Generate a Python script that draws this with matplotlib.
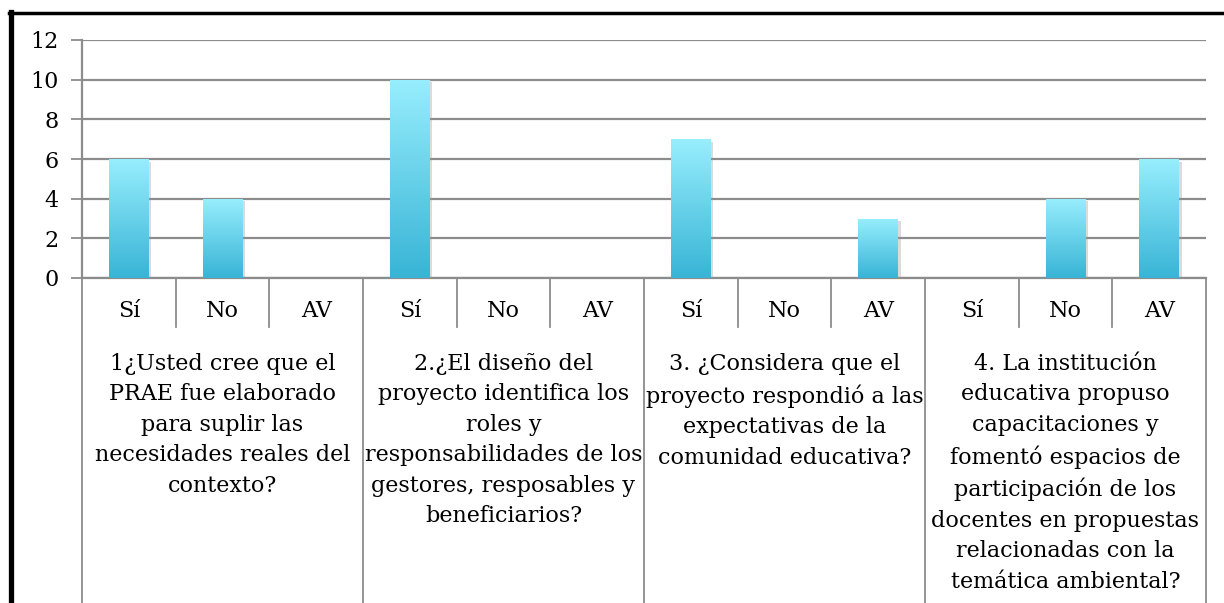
import numpy as np
import matplotlib
matplotlib.use("Agg")
import matplotlib.pyplot as plt
import matplotlib.patheffects as pe
from matplotlib.colors import LinearSegmentedColormap
from matplotlib.lines import Line2D

# datos
respuestas = ["Sí", "No", "AV"]
preguntas = [
    "1¿Usted cree que el\nPRAE fue elaborado\npara suplir las\nnecesidades reales del\ncontexto?",
    "2.¿El diseño del\nproyecto identifica los\nroles y\nresponsabilidades de los\ngestores, resposables y\nbeneficiarios?",
    "3. ¿Considera que el\nproyecto respondió a las\nexpectativas de la\ncomunidad educativa?",
    "4. La institución\neducativa propuso\ncapacitaciones y\nfomentó espacios de\nparticipación de los\ndocentes en propuestas\nrelacionadas con la\ntemática ambiental?",
]
valores = [6, 4, 0, 10, 0, 0, 7, 0, 3, 0, 4, 6]
y_ticks = [0, 2, 4, 6, 8, 10, 12]

plt.rcParams['font.family'] = 'DejaVu Serif'
plt.rcParams['font.size'] = 16

fig = plt.figure(figsize=(12.24, 6.03), dpi=100)
ax = fig.add_axes([82 / 1224, 325 / 603, 1124 / 1224, 238 / 603])

n_resp = len(respuestas)
x = np.arange(len(valores))
etiquetas = respuestas * len(preguntas)

cmap = LinearSegmentedColormap.from_list('barra', ['#38B4D6', '#97EEFD'])
grad = np.linspace(0, 1, 256).reshape(-1, 1)

bars = ax.bar(x, valores, width=0.42, color='#5ccbe8', zorder=3,
              path_effects=[pe.SimplePatchShadow(offset=(2, -2), shadow_rgbFace='#999999', alpha=0.35),
                            pe.Normal()])
for b in bars:
    if b.get_height() <= 0:
        continue
    x0, y0 = b.get_x(), b.get_y()
    im = ax.imshow(grad, cmap=cmap, origin='lower', aspect='auto', zorder=4,
                   extent=[x0, x0 + b.get_width(), y0, y0 + b.get_height()])
    im.set_clip_path(b)

ax.set_xlim(-0.5, len(valores) - 0.5)
ax.set_ylim(0, 12)
ax.set_yticks(y_ticks)
ax.yaxis.grid(True, color='#8c8c8c', linewidth=1.6, zorder=0)
ax.set_axisbelow(True)
ax.tick_params(axis='y', length=8, width=1.3, color='#8c8c8c', pad=9, labelsize=16)
ax.tick_params(axis='x', length=0)
ax.set_xticks([])

for side in ['top', 'right']:
    ax.spines[side].set_visible(False)
for side in ['left', 'bottom']:
    ax.spines[side].set_color('#8c8c8c')
    ax.spines[side].set_linewidth(1.6)

trans = ax.get_xaxis_transform()
for i, lab in enumerate(etiquetas):
    ax.text(i, -0.14, lab, transform=trans, ha='center', va='center', fontsize=16)

# divisiones del eje de categorías
for k in range(len(valores) + 1):
    xb = k - 0.5
    if k % n_resp == 0:
        ax.add_line(Line2D([xb, xb], [0, -1.5], transform=trans, color='#8c8c8c',
                           linewidth=1.3, clip_on=False))
    else:
        ax.add_line(Line2D([xb, xb], [0, -0.205], transform=trans, color='#8c8c8c',
                           linewidth=1.3, clip_on=False))

for g, txt in enumerate(preguntas):
    xc = g * n_resp + (n_resp - 1) / 2
    ax.text(xc, -0.315, txt, transform=trans, ha='center', va='top', fontsize=16,
            linespacing=1.5)

# marco negro
fig.add_artist(Line2D([9 / 1224, 1], [1 - 13 / 603, 1 - 13 / 603], color='black', linewidth=2.5))
fig.add_artist(Line2D([11 / 1224, 11 / 1224], [0, 1 - 12 / 603], color='black', linewidth=3.8))

fig.savefig('out.png', dpi=100, facecolor='white')
